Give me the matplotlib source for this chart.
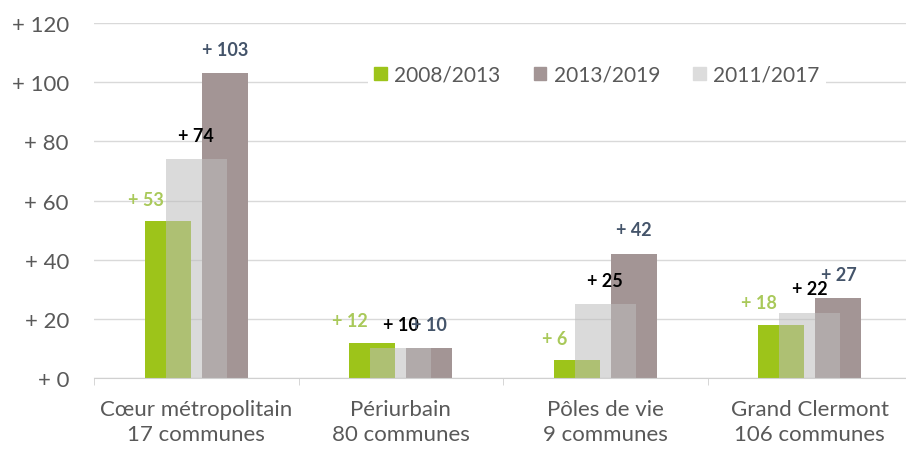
import numpy as np
import matplotlib.pyplot as plt
from matplotlib.patches import Patch

plt.rcParams['font.family'] = ['Lato', 'DejaVu Sans']

# donnees
categories = ['Cœur métropolitain\n17 communes', 'Périurbain\n80 communes',
              'Pôles de vie\n9 communes', 'Grand Clermont\n106 communes']
v_2008_2013 = [53, 12, 6, 18]
v_2013_2019 = [103, 10, 42, 27]
v_2011_2017 = [74, 10, 25, 22]
series_names = ['2008/2013', '2013/2019', '2011/2017']
yticks = [0, 20, 40, 60, 80, 100, 120]

c_green = '#9dc41a'
c_mauve = '#a39595'
c_gray = '#bdbdbd'

W, H = 906, 452
fig = plt.figure(figsize=(W/100, H/100), dpi=100)
ax = fig.add_axes([94/W, 73/H, (912-94)/W, 355/H])

x = np.arange(len(categories))
ax.bar(x-0.14, v_2008_2013, 0.225, color=c_green, zorder=2)
ax.bar(x+0.14, v_2013_2019, 0.225, color=c_mauve, zorder=2)
ax.bar(x, v_2011_2017, 0.30, color=c_gray, alpha=0.55, zorder=3, linewidth=0)

# etiquettes (les deux "+ 10" se chevauchent aussi dans l'original)
for i in range(len(categories)):
    ax.annotate('+ %d' % v_2008_2013[i], (x[i]-0.14, v_2008_2013[i]), xytext=(-22, 22),
                textcoords='offset pixels', ha='center', va='center', fontsize=13,
                fontweight='bold', color='#a9c95a', zorder=5)
    ax.annotate('+ %d' % v_2011_2017[i], (x[i], v_2011_2017[i]), xytext=(0, 24),
                textcoords='offset pixels', ha='center', va='center', fontsize=13,
                fontweight='bold', color='black', zorder=5)
    ax.annotate('+ %d' % v_2013_2019[i], (x[i]+0.14, v_2013_2019[i]), xytext=(0, 24),
                textcoords='offset pixels', ha='center', va='center', fontsize=13,
                fontweight='bold', color='#44546a', zorder=5)

ax.set_xlim(-0.5, 3.5)
ax.set_ylim(0, 120)
ax.set_yticks(yticks)
ax.set_yticklabels(['+ %d' % v for v in yticks])
ax.set_xticks(x)
ax.set_xticklabels(categories, linespacing=1.35)
ax.set_xticks(np.arange(-0.5, 4, 1), minor=True)
ax.tick_params(axis='x', which='major', length=0, pad=15, labelsize=16, labelcolor='#595959')
ax.tick_params(axis='x', which='minor', length=5, color='#d0d0d0')
ax.tick_params(axis='y', length=0, pad=18, labelsize=16, labelcolor='#595959')
ax.grid(axis='y', color='#d9d9d9', linewidth=1, zorder=0)
ax.set_axisbelow(True)
for s in ['left', 'right', 'top']:
    ax.spines[s].set_visible(False)
ax.spines['bottom'].set_color('#d0d0d0')

handles = [Patch(color=c_green), Patch(color=c_mauve), Patch(color='#dcdcdc')]
leg = ax.legend(handles, series_names, ncol=3, loc='center', bbox_to_anchor=(597/W, 1-76/H),
                bbox_transform=fig.transFigure, frameon=True, fancybox=False, edgecolor='none',
                framealpha=1, fontsize=15, handlelength=0.6, handleheight=0.6,
                handletextpad=0.35, columnspacing=1.6, borderpad=0.3)
for t in leg.get_texts():
    t.set_color('#595959')

plt.savefig('out.png', dpi=100)
